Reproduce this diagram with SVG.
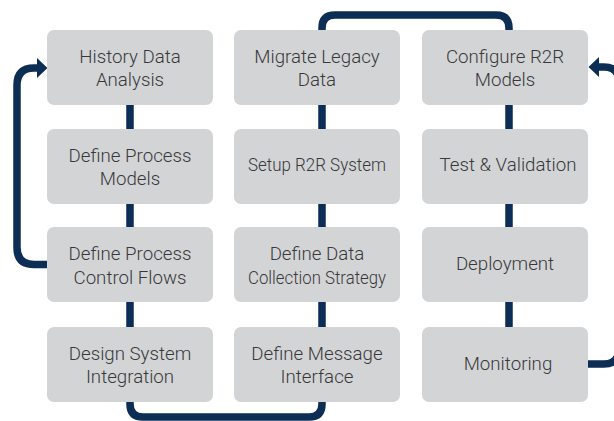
<svg xmlns="http://www.w3.org/2000/svg" width="614" height="421" viewBox="0 0 614 421">
<style>
.box{fill:#d3d4d6}
.t{font-family:Roboto,"Liberation Sans",sans-serif;font-weight:300;font-size:18.7px;fill:#38383a;text-anchor:middle}
.c{fill:none;stroke:#0c2d54;stroke-width:7.5}
</style>
<defs>
<marker id="ah" markerUnits="userSpaceOnUse" markerWidth="11" markerHeight="20" refX="0" refY="10" orient="auto" overflow="visible">
<path d="M0,0 L10.5,10 L0,20 z" fill="#0c2d54"/>
</marker>
</defs>
<rect width="614" height="421" fill="#fff"/>
<g id="connectors">
<path class="c" d="M130,105 V129 M130,204 V227 M130,302 V327"/>
<path class="c" d="M322,105 V129 M322,204 V227 M322,302 V327"/>
<path class="c" d="M509,105 V129 M509,204 V227 M509,302 V327"/>
<path class="c" d="M130,402 V404 Q130,417 143,417 H309 Q322,417 322,404 V402"/>
<path class="c" d="M322,30 V28 Q322,15 335,15 H496 Q509,15 509,28 V30"/>
<path class="c" d="M47,264.5 H34 Q17,264.5 17,247.5 V85 Q17,68 34,68 H37" marker-end="url(#ah)"/>
<path class="c" d="M588,364 H604 Q619,364 619,349 V82 Q619,67 604,67 H599" marker-end="url(#ah)"/>
</g>
<g id="n1"><rect class="box" x="47" y="30" width="166" height="75" rx="7"/><text class="t" x="130" y="62.5">History Data</text><text class="t" x="130" y="86">Analysis</text></g>
<g id="n2"><rect class="box" x="47" y="129" width="166" height="75" rx="7"/><text class="t" x="130" y="161.5">Define Process</text><text class="t" x="130" y="184.5">Models</text></g>
<g id="n3"><rect class="box" x="47" y="227" width="166" height="75" rx="7"/><text class="t" x="130" y="260">Define Process</text><text class="t" x="130" y="283.5">Control Flows</text></g>
<g id="n4"><rect class="box" x="47" y="327" width="166" height="75" rx="7"/><text class="t" x="130" y="359.5">Design System</text><text class="t" x="130" y="383">Integration</text></g>
<g id="n5"><rect class="box" x="234" y="30" width="166" height="75" rx="7"/><text class="t" x="317" y="62.5">Migrate Legacy</text><text class="t" x="317" y="86">Data</text></g>
<g id="n6"><rect class="box" x="234" y="129" width="166" height="75" rx="7"/><text class="t" x="317" y="171" textLength="138" lengthAdjust="spacingAndGlyphs">Setup R2R System</text></g>
<g id="n7"><rect class="box" x="234" y="227" width="166" height="75" rx="7"/><text class="t" x="317" y="260">Define Data</text><text class="t" x="317" y="283.5" textLength="138" lengthAdjust="spacingAndGlyphs">Collection Strategy</text></g>
<g id="n8"><rect class="box" x="234" y="327" width="166" height="75" rx="7"/><text class="t" x="317" y="359.5">Define Message</text><text class="t" x="317" y="383">Interface</text></g>
<g id="n9"><rect class="box" x="422" y="30" width="166" height="75" rx="7"/><text class="t" x="505" y="62.5">Configure R2R</text><text class="t" x="505" y="86">Models</text></g>
<g id="n10"><rect class="box" x="422" y="129" width="166" height="75" rx="7"/><text class="t" x="508" y="171">Test &amp; Validation</text></g>
<g id="n11"><rect class="box" x="422" y="227" width="166" height="75" rx="7"/><text class="t" x="505" y="269.5">Deployment</text></g>
<g id="n12"><rect class="box" x="422" y="327" width="166" height="75" rx="7"/><text class="t" x="508" y="370">Monitoring</text></g>
</svg>
